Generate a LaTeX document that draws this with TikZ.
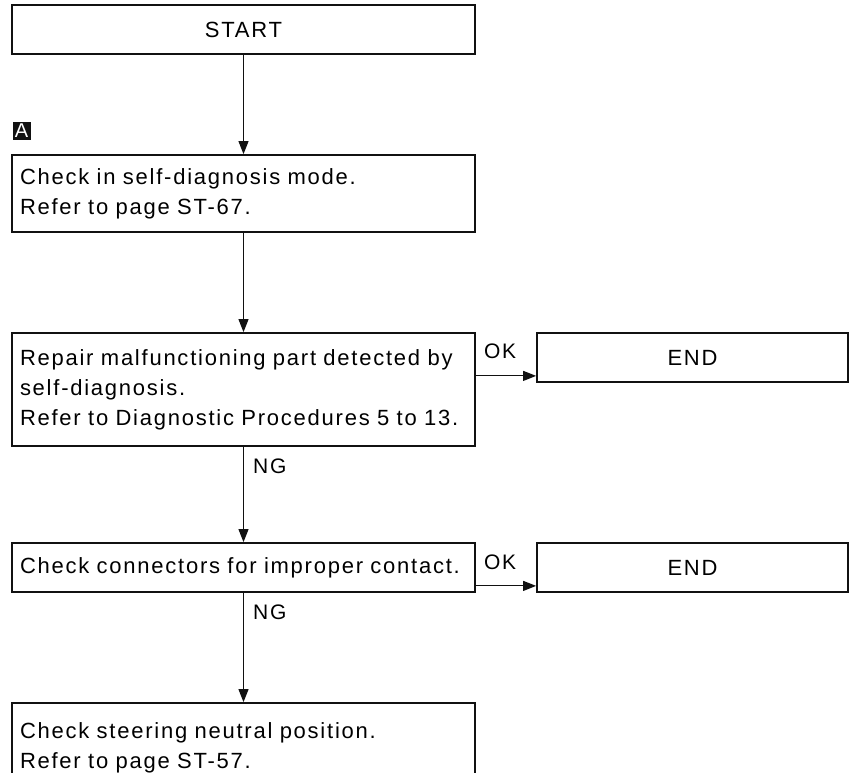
\documentclass[tikz,border=0pt]{standalone}
\usepackage{fontspec}
\setmainfont{Liberation Sans}[LetterSpace=8,WordSpace=1.4]
\usetikzlibrary{positioning,arrows.meta,calc}
\definecolor{ink}{HTML}{111111}
\tikzset{
  box/.style={draw=ink,line width=1.8pt,fill=white,inner xsep=8pt,inner ysep=0pt,
              text width=447pt,align=left,font=\fontsize{22}{30}\selectfont},
  titlebox/.style={box,align=center,minimum height=49pt},
  endbox/.style={box,text width=295pt,align=center,minimum height=49pt},
  flow/.style={-{Triangle[length=13pt,width=10pt]},line width=1.1pt,draw=ink},
  lbl/.style={font=\fontsize{21}{22}\selectfont,inner sep=0pt,anchor=west}
}

\begin{document}
\begin{tikzpicture}[x=1pt,y=-1pt]
    \useasboundingbox (0,0) rectangle (862,773);
    \clip (0,0) rectangle (862,773);
    \fill[white] (0,0) rectangle (862,773);
    % main column
    \node[titlebox] (start) at (243.5,29.5) {START};
    \node[box,minimum height=77pt] (chk) at (243.5,193.5)
      {Check in self-diagnosis mode.\\Refer to page ST-67.};
    \node[box,minimum height=113pt] (rep) at (243.5,389.5)
      {Repair malfunctioning part detected by\\self-diagnosis.\\Refer to Diagnostic Procedures 5 to 13.};
    \node[box,minimum height=49pt] (con) at (243.5,567.5)
      {Check connectors for improper contact.};
    \node[box,minimum height=90pt] (neu) at (243.5,748)
      {Check steering neutral position.\\Refer to page ST-57.};
    % side column
    \node[endbox] (end1) at (692.5,357.5) {END};
    \node[endbox] (end2) at (692.5,567.5) {END};
    % marker
    \node[fill=ink,text=white,inner sep=0pt,minimum size=18pt,
          font=\fontsize{20}{20}\selectfont] (mkA) at (21.5,131) {A};
    % connectors
    \draw[flow] (start) -- (chk);
    \draw[flow] (chk) -- (rep);
    \draw[flow] (rep) -- (con);
    \draw[flow] (con) -- (neu);
    \draw[flow] ([yshift=7pt]end1.south west -| rep.east) -- ([yshift=7pt]end1.south west);
    \draw[flow] ([yshift=7pt]end2.south west -| con.east) -- ([yshift=7pt]end2.south west);
    % labels
    \node[lbl] (ok1) at (484,351) {OK};
    \node[lbl] (ok2) at (484,562) {OK};
    \node[lbl] (ng1) at (253,466) {NG};
    \node[lbl] (ng2) at (253,612) {NG};
  \end{tikzpicture}
\end{document}
